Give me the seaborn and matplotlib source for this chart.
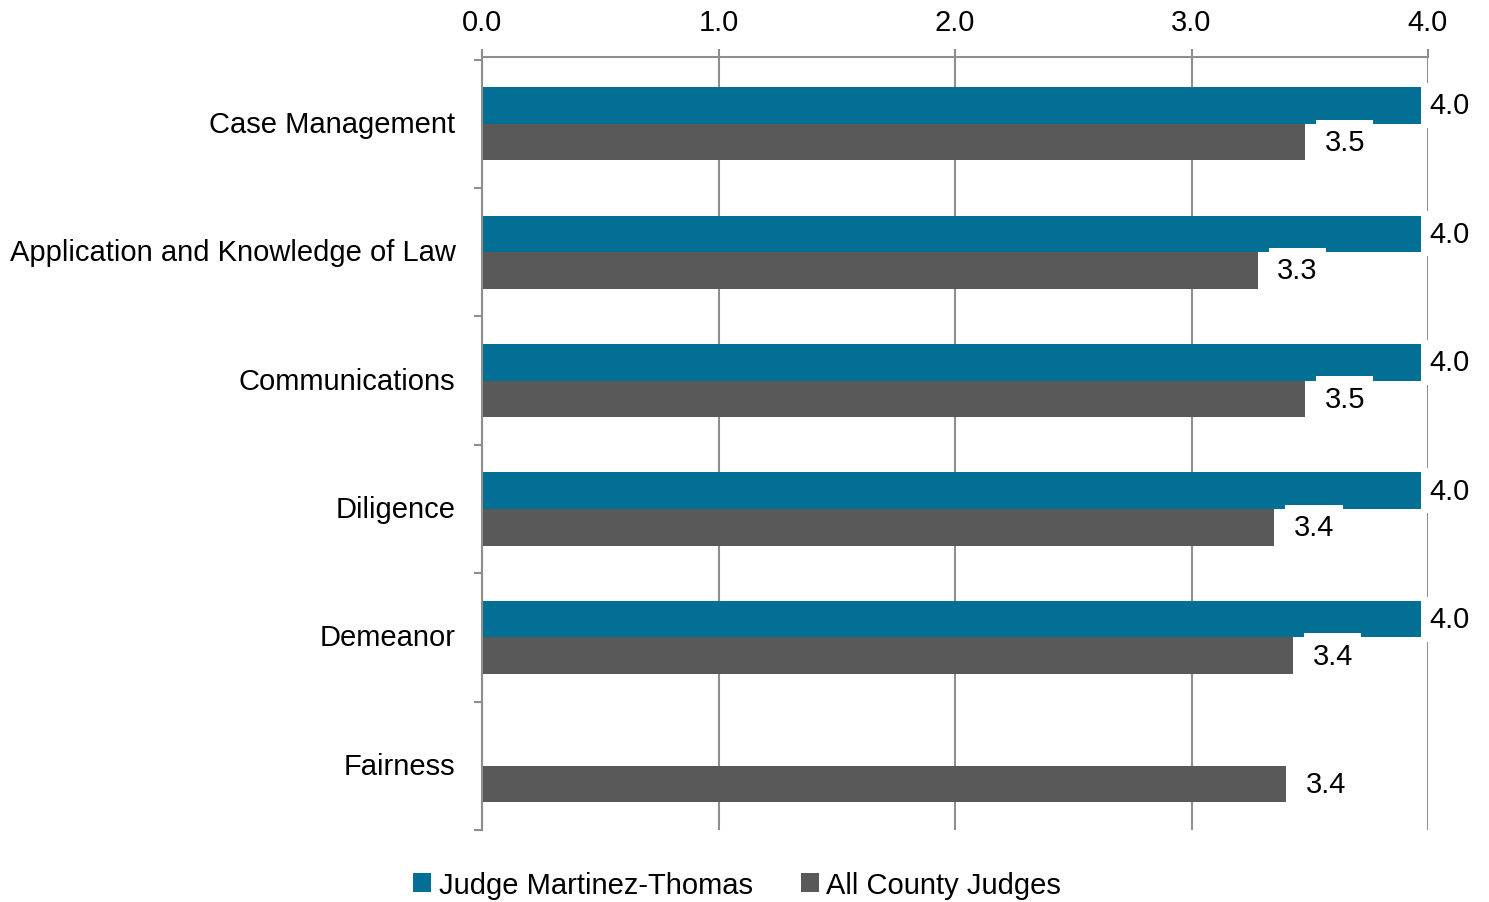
import numpy as np
import pandas as pd
import matplotlib
matplotlib.use("Agg")
import matplotlib.pyplot as plt
import seaborn as sns

categories = ["Case Management", "Application and Knowledge of Law", "Communications",
              "Diligence", "Demeanor", "Fairness"]
series_names = ["Judge Martinez-Thomas", "All County Judges"]
judge_values = [3.97, 3.97, 3.97, 3.97, 3.97, np.nan]
county_values = [3.48, 3.28, 3.48, 3.35, 3.43, 3.40]
x_ticks = [0.0, 1.0, 2.0, 3.0, 4.0]

colors = ["#046F94", "#595959"]
grid_gray = "#8E8E8E"
FS = 21

df = pd.DataFrame({
    "category": categories * 2,
    "series": [series_names[0]] * len(categories) + [series_names[1]] * len(categories),
    "value": judge_values + county_values,
})

sns.set_style("white")
plt.rcParams["font.family"] = ["Liberation Sans", "DejaVu Sans"]

fig = plt.figure(figsize=(14.89, 9.03), dpi=100)
ax = fig.add_axes([482 / 1489, 1 - 831 / 903, (1428 - 482) / 1489, (831 - 58) / 903])

sns.barplot(data=df, y="category", x="value", hue="series", order=categories,
            hue_order=series_names, palette=colors, orient="h", width=0.57,
            saturation=1, linewidth=0, errorbar=None, ax=ax)

ax.set_xlim(0, 4.0)
ax.set_ylim(len(categories) - 0.5 - 0.02, -0.5 - 0.02)
ax.set_xticks(x_ticks)
ax.set_xticklabels([f"{v:.1f}" for v in x_ticks])
ax.xaxis.tick_top()
ax.set_xlabel("")
ax.set_ylabel("")

ax.set_axisbelow(True)
ax.grid(axis="x", color=grid_gray, linewidth=1.5)
ax.grid(axis="y", visible=False)

for side in ["right", "bottom"]:
    ax.spines[side].set_visible(False)
for side in ["top", "left"]:
    ax.spines[side].set_visible(True)
    ax.spines[side].set_color(grid_gray)
    ax.spines[side].set_linewidth(1.5)

ax.tick_params(axis="x", which="major", top=True, bottom=False, length=6, width=1.5,
               color=grid_gray, labelsize=FS, pad=9, labelcolor="black")
ax.set_yticks(np.arange(-0.5, len(categories), 1), minor=True)
ax.tick_params(axis="y", which="major", left=False, length=0, labelsize=FS, pad=19,
               labelcolor="black")
ax.tick_params(axis="y", which="minor", left=True, length=6, width=1.5, color=grid_gray)
for lbl in ax.get_yticklabels():
    lbl.set_verticalalignment("center")

paddings = [6, 14]
for cont, pad in zip(ax.containers, paddings):
    labels = [f"{b.get_width():.1f}" if np.isfinite(b.get_width()) and b.get_width() > 0 else ""
              for b in cont]
    ax.bar_label(cont, labels=labels, padding=pad, fontsize=FS, color="black",
                 bbox=dict(facecolor="white", edgecolor="none", pad=6), zorder=5)

handles, labels = ax.get_legend_handles_labels()
if ax.get_legend() is not None:
    ax.get_legend().remove()
fig.legend(handles, labels, loc="center", bbox_to_anchor=(0.495, 0.019), ncol=2,
           frameon=False, fontsize=FS, handlelength=0.62, handleheight=0.62,
           handletextpad=0.25, columnspacing=1.65, labelcolor="black")

fig.savefig("out.png", dpi=100, facecolor="white")
